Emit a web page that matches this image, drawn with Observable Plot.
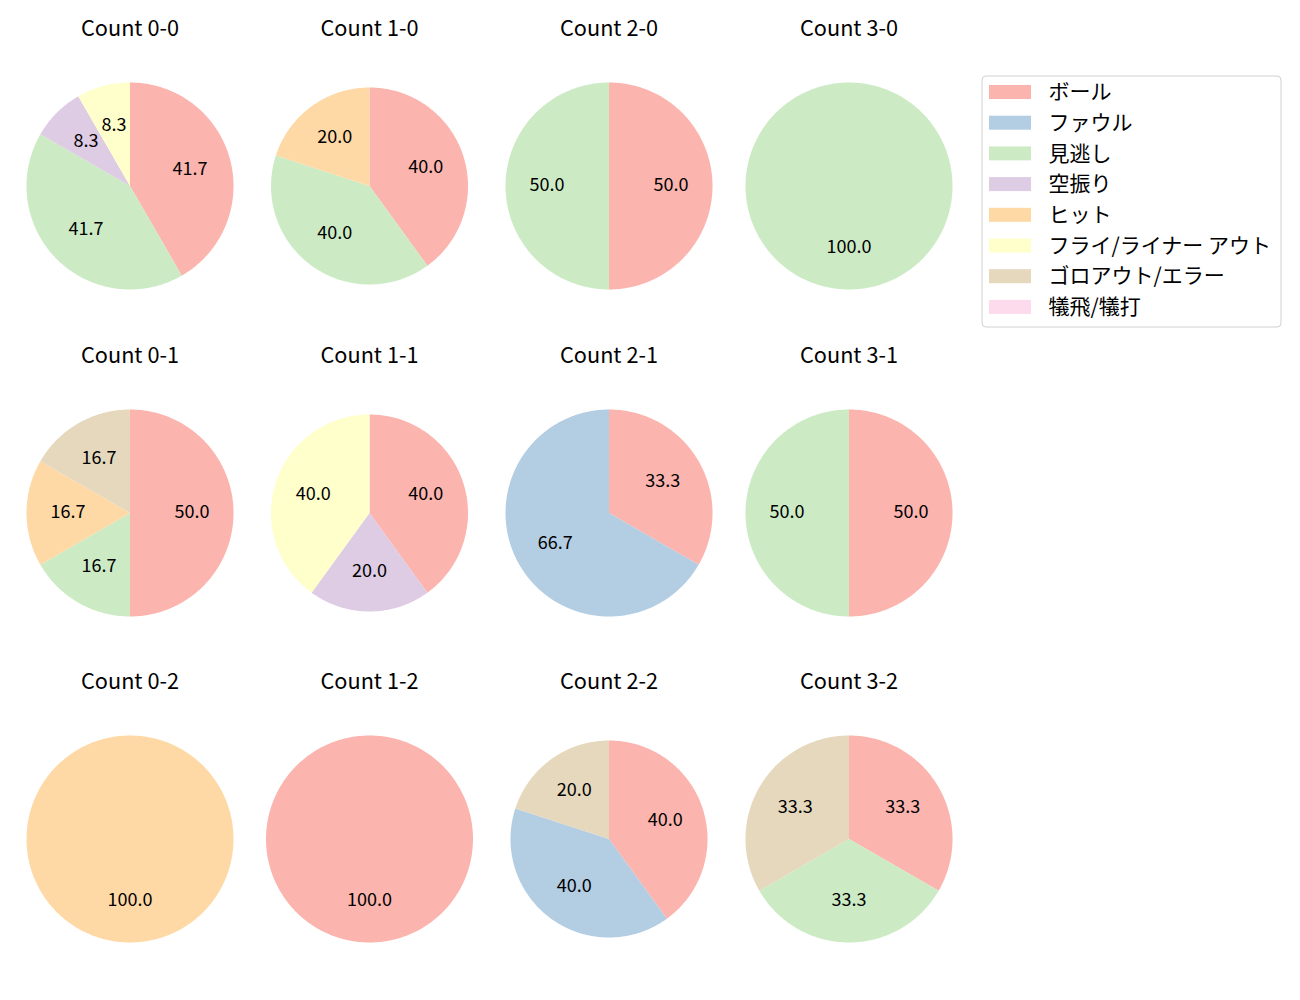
<!DOCTYPE html>
<html>
<head>
<meta charset="utf-8">
<script src="https://cdn.jsdelivr.net/npm/d3@7"></script>
<script src="https://cdn.jsdelivr.net/npm/@observablehq/plot@0.6"></script>
<style>
  html, body { margin: 0; padding: 0; background: white; }
  #chart svg { display: block; }
</style>
</head>
<body>
<div id="chart"></div>
<script>
// ---- Data ----
const pieNames = ["Count 0-0","Count 1-0","Count 2-0","Count 3-0",
                  "Count 0-1","Count 1-1","Count 2-1","Count 3-1",
                  "Count 0-2","Count 1-2","Count 2-2","Count 3-2"];
const categories = ["ボール","ファウル","見逃し","空振り","ヒット","フライ/ライナー アウト","ゴロアウト/エラー","犠飛/犠打"];
const colors = ["#fbb4ae","#b3cde3","#ccebc5","#decbe4","#fed9a6","#ffffcc","#e5d8bd","#fddaec"];
// counts per category, in pieNames order
const ball      = [5,2,1,0, 3,2,1,1, 0,1,2,1];
const foul      = [0,0,0,0, 0,0,2,0, 0,0,2,0];
const minogashi = [5,2,1,1, 1,0,0,1, 0,0,0,1];
const karaburi  = [1,0,0,0, 0,1,0,0, 0,0,0,0];
const hit       = [0,1,0,0, 1,0,0,0, 1,0,0,0];
const fly       = [1,0,0,0, 0,2,0,0, 0,0,0,0];
const goro      = [0,0,0,0, 1,0,0,0, 0,0,1,1];
const gisei     = [0,0,0,0, 0,0,0,0, 0,0,0,0];
const series = [ball, foul, minogashi, karaburi, hit, fly, goro, gisei];

// ---- Layout ----
const colX = [129.5, 369, 608.5, 848.5];
const rowY = [185.5, 512.5, 838.5];
const bigR = 103.5, smallR = 98.5;
const smallPies = new Set([1, 5, 10]);
const fontFamily = '"Noto Sans CJK JP", "Noto Sans", sans-serif';

const wedgePts = [];
const labels = [];
const titles = [];
pieNames.forEach((name, i) => {
  const cx = colX[i % 4], cy = rowY[Math.floor(i / 4)];
  const r = smallPies.has(i) ? smallR : bigR;
  titles.push({name, x: cx, y: cy - 157});
  const vals = series.map(s => s[i]);
  const total = d3.sum(vals);
  let acc = 0;
  vals.forEach((v, k) => {
    if (v <= 0) return;
    const a0 = acc / total * 2 * Math.PI;
    acc += v;
    const a1 = acc / total * 2 * Math.PI;
    const id = i + "-" + k;
    const n = Math.max(2, Math.ceil((a1 - a0) / (Math.PI / 180)));
    wedgePts.push({id, cat: categories[k], x: cx, y: cy});
    for (let j = 0; j <= n; j++) {
      const a = a0 + (a1 - a0) * j / n;
      wedgePts.push({id, cat: categories[k], x: cx + r * Math.sin(a), y: cy - r * Math.cos(a)});
    }
    const am = (a0 + a1) / 2;
    labels.push({text: (v / total * 100).toFixed(1), x: cx + 0.6 * r * Math.sin(am), y: cy - 0.6 * r * Math.cos(am) - 1});
  });
});

// legend layout
const legX0 = 982, legX1 = 1281, legY0 = 76, legY1 = 327;
const legend = categories.map((c, k) => ({cat: c, y: 92 + k * 30.7}));

const chart = Plot.plot({
  width: 1300,
  height: 1000,
  margin: 0,
  x: {domain: [0, 1300], range: [0, 1300], axis: null},
  y: {domain: [0, 1000], range: [0, 1000], axis: null},
  color: {domain: categories, range: colors},
  style: {fontFamily, background: "white"},
  marks: [
    Plot.line(wedgePts, {x: "x", y: "y", z: "id", fill: "cat", stroke: "none", curve: "linear-closed"}),
    Plot.text(labels, {x: "x", y: "y", text: "text", fontSize: 18, fill: "black"}),
    Plot.text(titles, {x: "x", y: "y", text: "name", fontSize: 21.7, fill: "black"}),
    Plot.rect([{}], {x1: () => legX0, x2: () => legX1, y1: () => legY0, y2: () => legY1, fill: "white", stroke: "#d0d0d0", rx: 4}),
    Plot.rect(legend, {x1: () => 989, x2: () => 1031, y1: d => d.y - 7, y2: d => d.y + 7, fill: "cat"}),
    Plot.text(legend, {x: () => 1048, y: "y", text: "cat", fill: "black", fontSize: 21, textAnchor: "start"})
  ]
});
document.getElementById("chart").appendChild(chart);
</script>
</body>
</html>
